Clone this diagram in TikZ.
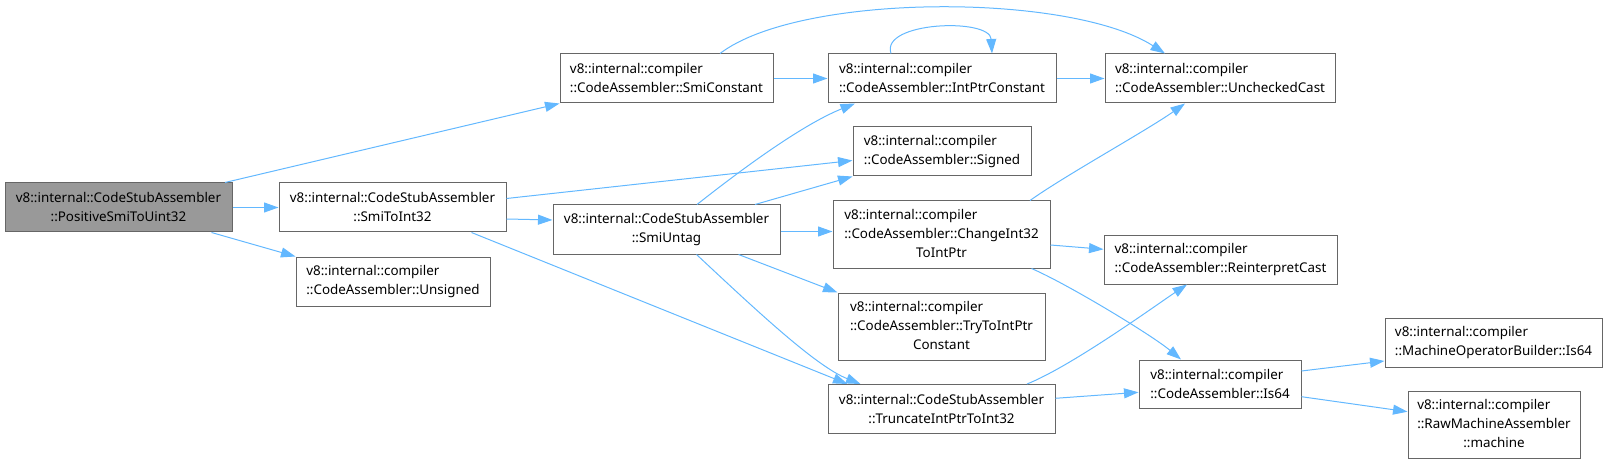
\documentclass[tikz,border=0pt]{standalone}
\usepackage{fontspec}
\setmainfont{Noto Sans}
\usepackage{tikz}
\usepackage{xcolor}
\definecolor{CallBlue}{HTML}{63B8FF}
\definecolor{BoxGrey}{HTML}{666666}
\definecolor{RootGrey}{HTML}{999999}
\usetikzlibrary{arrows.meta}

\begin{document}
\begin{tikzpicture}[x=1pt, y=-1pt,
    fnbox/.style={draw=BoxGrey, line width=1pt, fill=white, inner sep=0pt,
        minimum height=49pt, font=\fontsize{13.4}{19}\selectfont},
    callarrow/.style={draw=CallBlue, line width=1pt, -{Triangle[length=14.5pt,width=10pt]}}]
    \useasboundingbox (0,0) rectangle (1609,465);

    % Column 1: the caller
    \node[fnbox, fill=RootGrey, minimum width=227pt, align=center] (pos) at (118.5,207.5)
        {v8::internal::CodeStubAssembler\\::PositiveSmiToUint32};

    % Column 2
    \node[fnbox, minimum width=227pt, align=center] (smitoint) at (392.5,207.5)
        {v8::internal::CodeStubAssembler\\::SmiToInt32};
    \node[fnbox, minimum width=194pt, align=left] (unsigned) at (393,281.5)
        {v8::internal::compiler\\::CodeAssembler::Unsigned};

    % Column 3
    \node[fnbox, minimum width=213pt, align=left] (smiconst) at (666.5,78.5)
        {v8::internal::compiler\\::CodeAssembler::SmiConstant};
    \node[fnbox, minimum width=227pt, align=center] (smiuntag) at (666.5,229.5)
        {v8::internal::CodeStubAssembler\\::SmiUntag};

    % Column 4
    \node[fnbox, minimum width=228pt, align=left] (intptr) at (942,78.5)
        {v8::internal::compiler\\::CodeAssembler::IntPtrConstant};
    \node[fnbox, minimum width=178pt, align=left] (signed) at (942,151.5)
        {v8::internal::compiler\\::CodeAssembler::Signed};
    \node[fnbox, minimum width=217pt, minimum height=67pt] (change) at (941.5,234.5)
        {\begin{tabular}{@{}l@{}}v8::internal::compiler\\::CodeAssembler::ChangeInt32\\\multicolumn{1}{@{}c@{}}{ToIntPtr}\end{tabular}};
    \node[fnbox, minimum width=207pt, minimum height=67pt] (trytoint) at (941.5,326.5)
        {\begin{tabular}{@{}l@{}}v8::internal::compiler\\::CodeAssembler::TryToIntPtr\\\multicolumn{1}{@{}c@{}}{Constant}\end{tabular}};
    \node[fnbox, minimum width=227pt, align=center] (truncate) at (941.5,409)
        {v8::internal::CodeStubAssembler\\::TruncateIntPtrToInt32};

    % Column 5
    \node[fnbox, minimum width=230pt, align=left] (unchecked) at (1220,78.5)
        {v8::internal::compiler\\::CodeAssembler::UncheckedCast};
    \node[fnbox, minimum width=233pt, minimum height=48pt, align=left] (reinterpret) at (1220.5,260)
        {v8::internal::compiler\\::CodeAssembler::ReinterpretCast};
    \node[fnbox, minimum width=162pt, minimum height=48pt, align=left] (is64) at (1220,384)
        {v8::internal::compiler\\::CodeAssembler::Is64};

    % Column 6
    \node[fnbox, minimum width=217pt, align=left] (machop) at (1493.5,342.5)
        {v8::internal::compiler\\::MachineOperatorBuilder::Is64};
    \node[fnbox, minimum width=172pt, minimum height=67pt] (rawmach) at (1494,425)
        {\begin{tabular}{@{}l@{}}v8::internal::compiler\\::RawMachineAssembler\\\multicolumn{1}{@{}c@{}}{::machine}\end{tabular}};

    % calls from PositiveSmiToUint32
    \draw[callarrow] ([xshift=106.5]pos.north) -- (smiconst.south west);
    \draw[callarrow] (pos.east) -- (smitoint.west);
    \draw[callarrow] ([xshift=93]pos.south) -- (unsigned.north west);

    % calls from SmiToInt32
    \draw[callarrow] ([yshift=9]smitoint.east) -- ([yshift=-9]signed.west);
    \draw[callarrow] ([yshift=-11.5]smitoint.east) -- ([yshift=9.5]smiuntag.west);
    \draw[callarrow] ([xshift=79]smitoint.south) -- ([xshift=-94]truncate.north);

    % calls from SmiUntag
    \draw[callarrow] ([xshift=30.5]smiuntag.north) .. controls +(38,-30) and +(-55,22) .. ([xshift=-87]intptr.south);
    \draw[callarrow] ([xshift=88.5]smiuntag.north) -- (signed.south west);
    \draw[callarrow] ([yshift=-2]smiuntag.east) -- ([yshift=3]change.west);
    \draw[callarrow] ([xshift=72]smiuntag.south) -- (trytoint.north west);
    \draw[callarrow] ([xshift=30]smiuntag.south) .. controls +(60,56) and +(-45,-18) .. ([xshift=-81]truncate.north);

    % calls from SmiConstant
    \draw[callarrow] ([xshift=53.5]smiconst.north) .. controls +(80,-61) and +(-95,-61) .. ([xshift=-55]unchecked.north);
    \draw[callarrow] (smiconst.east) -- (intptr.west);

    % calls from IntPtrConstant (recursive one too)
    \draw[callarrow] ([xshift=-51]intptr.north) .. controls +(-11,-32) and +(-2,-36) .. ([xshift=50]intptr.north);
    \draw[callarrow] (intptr.east) -- (unchecked.west);

    % calls from ChangeInt32ToIntPtr
    \draw[callarrow] ([xshift=88.5]change.north) .. controls +(35,-25) and +(-40,28) .. ([xshift=-35]unchecked.south);
    \draw[callarrow] ([yshift=-10.5]change.east) -- ([yshift=10.7]reinterpret.west);
    \draw[callarrow] ([xshift=90]change.south) .. controls +(35,15) and +(-30,-25) .. ([xshift=-39]is64.north);

    % calls from TruncateIntPtrToInt32
    \draw[callarrow] ([xshift=85.5]truncate.north) .. controls +(45,-18) and +(-30,20) .. ([xshift=-33.5]reinterpret.south);
    \draw[callarrow] ([yshift=10.7]truncate.east) -- ([yshift=-8.3]is64.west);

    % calls from Is64
    \draw[callarrow] ([yshift=13]is64.east) -- ([yshift=-18.5]machop.west);
    \draw[callarrow] ([yshift=-12.7]is64.east) -- ([yshift=13.3]rawmach.west);
\end{tikzpicture}
\end{document}
